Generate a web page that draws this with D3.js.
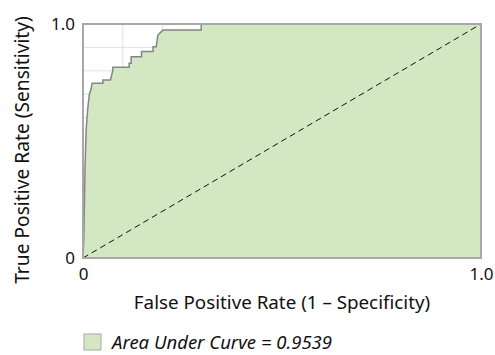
<!DOCTYPE html>
<html lang="en">
<head>
  <meta charset="UTF-8">
  <title>ROC Curve</title>
  <style>
    body { margin: 0; background: #fff; }
    #chart { width: 495px; height: 355px; }
    text { font-family: "Noto Sans", "Open Sans", sans-serif; fill: #111; }
  </style>
</head>
<body>
  <div id="chart"></div>

  <script src="https://d3js.org/d3.v7.min.js"></script>
  <script>
    // ROC curve points (false positive rate, true positive rate)
    const fpr = [0, 0.002, 0.005, 0.008, 0.012, 0.016, 0.020, 0.023, 0.050, 0.050, 0.069, 0.075, 0.075,
                 0.116, 0.116, 0.121, 0.121, 0.147, 0.147, 0.176, 0.176, 0.184, 0.188, 0.201, 0.297, 0.297, 1.0];
    const tpr = [0, 0.08, 0.38, 0.55, 0.64, 0.70, 0.72, 0.747, 0.747, 0.761, 0.761, 0.803, 0.815,
                 0.815, 0.832, 0.832, 0.860, 0.860, 0.882, 0.882, 0.903, 0.903, 0.953, 0.974, 0.974, 1.0, 1.0];

    const tickValues = [0, 1];
    const tickLabels = ["0", "1.0"];
    const gridValues = [0.1, 0.2, 0.3, 0.4, 0.5, 0.6, 0.7, 0.8, 0.9];
    const legendLabel = "Area Under Curve = 0.9539";

    const points = fpr.map((f, i) => ({ x: f, y: tpr[i] }));

    const W = 495, H = 355;
    const margin = { top: 24, right: 14, bottom: 97, left: 83 };
    const width = W - margin.left - margin.right;
    const height = H - margin.top - margin.bottom;

    const svg = d3.select("#chart").append("svg")
      .attr("width", W)
      .attr("height", H);

    const g = svg.append("g")
      .attr("transform", `translate(${margin.left},${margin.top})`);

    const x = d3.scaleLinear().domain([0, 1]).range([0, width]);
    const y = d3.scaleLinear().domain([0, 1]).range([height, 0]);

    // grid
    g.append("g").selectAll("line")
      .data(gridValues).enter().append("line")
      .attr("x1", d => x(d)).attr("x2", d => x(d))
      .attr("y1", 0).attr("y2", height)
      .attr("stroke", "#e2e2e2").attr("stroke-width", 1);
    g.append("g").selectAll("line")
      .data(gridValues).enter().append("line")
      .attr("y1", d => y(d)).attr("y2", d => y(d))
      .attr("x1", 0).attr("x2", width)
      .attr("stroke", "#e2e2e2").attr("stroke-width", 1);

    // area under curve
    const area = d3.area()
      .x(d => x(d.x))
      .y0(y(0))
      .y1(d => y(d.y));
    g.append("path")
      .datum(points)
      .attr("d", area)
      .attr("fill", "#d3e7c3");

    // curve
    const line = d3.line().x(d => x(d.x)).y(d => y(d.y));
    g.append("path")
      .datum(points)
      .attr("d", line)
      .attr("fill", "none")
      .attr("stroke", "#858585")
      .attr("stroke-width", 1.5);

    // diagonal reference
    g.append("line")
      .attr("x1", x(0)).attr("y1", y(0))
      .attr("x2", x(1)).attr("y2", y(1))
      .attr("stroke", "#111")
      .attr("stroke-width", 1)
      .attr("stroke-dasharray", "6,4");

    // frame
    g.append("rect")
      .attr("width", width).attr("height", height)
      .attr("fill", "none")
      .attr("stroke", "#a8a8a8")
      .attr("stroke-width", 2);

    // axes
    const xAxis = d3.axisBottom(x).tickValues(tickValues)
      .tickFormat((d, i) => tickLabels[i]).tickSize(0).tickPadding(10);
    const gx = g.append("g").attr("transform", `translate(0,${height})`).call(xAxis);
    gx.select(".domain").remove();
    gx.selectAll("text").attr("font-size", 17).style("font-family", "'Noto Sans', sans-serif").attr("fill", "#111");

    const yAxis = d3.axisLeft(y).tickValues(tickValues)
      .tickFormat((d, i) => tickLabels[i]).tickSize(0).tickPadding(8);
    const gy = g.append("g").call(yAxis);
    gy.select(".domain").remove();
    gy.selectAll("text").attr("font-size", 17).style("font-family", "'Noto Sans', sans-serif").attr("fill", "#111");

    // axis titles
    svg.append("text")
      .attr("x", margin.left + width / 2)
      .attr("y", 309)
      .attr("text-anchor", "middle")
      .attr("font-size", 18.8)
      .text("False Positive Rate (1 \u2013 Specificity)");

    svg.append("text")
      .attr("transform", "translate(29,150) rotate(-90)")
      .attr("text-anchor", "middle")
      .attr("font-size", 19.2)
      .text("True Positive Rate (Sensitivity)");

    // legend
    const lg = svg.append("g").attr("transform", "translate(84,334)");
    lg.append("rect")
      .attr("width", 17).attr("height", 16)
      .attr("fill", "#d3e7c3")
      .attr("stroke", "#a8a8a8")
      .attr("stroke-width", 1);
    lg.append("text")
      .attr("x", 28).attr("y", 15)
      .attr("font-size", 18.5)
      .attr("font-style", "italic")
      .text(legendLabel);
  </script>
</body>
</html>
